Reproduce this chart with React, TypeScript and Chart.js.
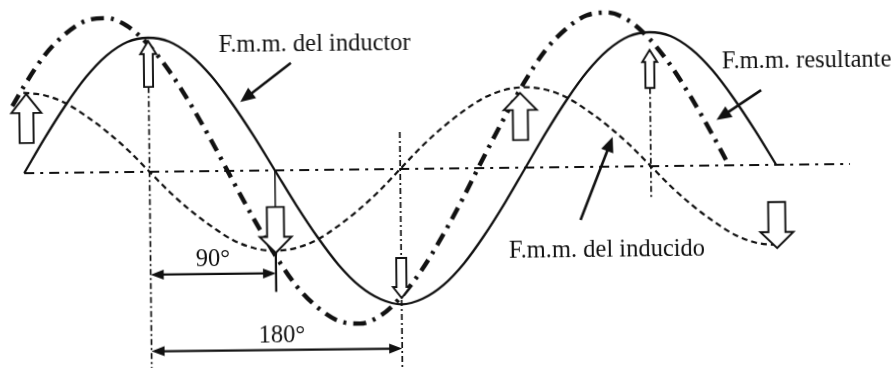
import React, { useEffect, useRef } from "react";
import { Chart, registerables } from "chart.js";

Chart.register(...registerables);

// Electrical degrees sampled along the curves
const phaseDeg = [0, 15, 30, 45, 60, 75, 90, 105, 120, 135, 150, 165, 180, 195, 210, 225, 240, 255, 270, 285, 300, 315, 330, 345, 360, 375, 390, 405, 420, 435, 450, 465, 480, 495, 510, 525, 540];
// F.m.m. del inductor (solid)
const inductorVal = [0, 0.26, 0.5, 0.71, 0.87, 0.97, 1, 0.97, 0.87, 0.71, 0.5, 0.26, 0, -0.26, -0.5, -0.71, -0.87, -0.97, -1.01, -0.97, -0.87, -0.71, -0.5, -0.26, 0, 0.26, 0.5, 0.71, 0.87, 0.97, 1, 0.97, 0.87, 0.71, 0.5, 0.26, 0];
// F.m.m. del inducido (dashed)
const inducidoVal = [0.6, 0.58, 0.52, 0.42, 0.3, 0.16, 0, -0.16, -0.3, -0.42, -0.52, -0.58, -0.6, -0.58, -0.52, -0.42, -0.3, -0.16, 0, 0.16, 0.3, 0.42, 0.52, 0.58, 0.6, 0.58, 0.52, 0.42, 0.3, 0.16, 0, -0.16, -0.3, -0.42, -0.52, -0.58, -0.6];
// F.m.m. resultante (thick dash-dot)
const resultDeg = [-8, 0, 15, 30, 45, 60, 75, 90, 105, 120, 135, 150, 165, 180, 195, 210, 225, 240, 255, 270, 285, 300, 315, 330, 345, 360, 375, 390, 405, 420, 435, 450, 465, 480, 495, 505];
const resultVal = [0.5, 0.64, 0.87, 1.03, 1.13, 1.15, 1.09, 0.95, 0.75, 0.5, 0.22, -0.08, -0.37, -0.64, -0.87, -1.03, -1.13, -1.15, -1.09, -0.95, -0.75, -0.5, -0.22, 0.08, 0.37, 0.64, 0.87, 1.03, 1.13, 1.15, 1.09, 0.95, 0.75, 0.5, 0.22, 0.02];
// Zero axis
const axisDeg = [0, 593];
const axisVal = [0, 0];
// Vertical guide lines
const guideDeg = [90, 270, 450];
const guideTop = [0.633, 0.276, 0.584];
const guideBottom = [-1.49, -1.49, -0.252];
// 180° tick stem (upper and lower parts)
const stemDeg = 180;
const stemUpper = [0, -0.273];
const stemLower = [-0.616, -0.907];
// Angle dimension labels
const dimLabels = ["90°", "180°"];
const dimFrom = [90, 90];
const dimTo = [180, 270];
const dimLevel = [-0.768, -1.34];
const dimLabelDeg = [134.8, 183.7];
const dimLabelVal = [-0.709, -1.28];
// Curve names
const curveNames = ["F.m.m. del inductor", "F.m.m. del inducido", "F.m.m. resultante"];
const nameDeg = [140.6, 347.4, 501.8];
const nameVal = [0.888, -0.673, 0.727];
const leaderFromDeg = [192.3, 399.1, 529.8];
const leaderFromVal = [0.8, -0.396, 0.559];
const leaderToDeg = [155.7, 422.8, 497.5];
const leaderToVal = [0.513, 0.221, 0.339];
// Hollow block arrows: position (deg), tip value, base value
const blockDeg = [2, 90, 180, 270, 356.7, 450, 540];
const blockTip = [0.59, 0.976, -0.616, -0.963, 0.557, 0.867, -0.621];
const blockBase = [0.225, 0.633, -0.273, -0.664, 0.206, 0.584, -0.278];

const blockStyle = [
  { headW: 15, shaftW: 7, headL: 19 },
  { headW: 8, shaftW: 4.5, headL: 13 },
  { headW: 16, shaftW: 8.5, headL: 16 },
  { headW: 8.5, shaftW: 5, headL: 11 },
  { headW: 16.5, shaftW: 7.5, headL: 17 },
  { headW: 7.5, shaftW: 4.5, headL: 12 },
  { headW: 16.5, shaftW: 8.5, headL: 16 },
];

const INK = "#111";
const FONT = '24.5px "Liberation Serif"';

function arrowHead(ctx: CanvasRenderingContext2D, tx: number, ty: number, fx: number, fy: number, len: number, half: number) {
  const ang = Math.atan2(ty - fy, tx - fx);
  const c = Math.cos(ang), s = Math.sin(ang);
  const bx = tx - c * len, by = ty - s * len;
  ctx.beginPath();
  ctx.moveTo(tx, ty);
  ctx.lineTo(bx - s * half, by + c * half);
  ctx.lineTo(bx + s * half, by - c * half);
  ctx.closePath();
  ctx.fill();
}

const annotationPlugin = {
  id: "fmmAnnotations",
  afterDatasetsDraw(chart: any) {
    const { ctx } = chart;
    const xs = chart.scales.x, ys = chart.scales.y;
    const px = (d: number) => xs.getPixelForValue(d);
    const py = (v: number) => ys.getPixelForValue(v);
    ctx.save();
    ctx.strokeStyle = INK;
    ctx.fillStyle = INK;

    // dimension lines
    for (let i = 0; i < dimLabels.length; i++) {
      const x1 = px(dimFrom[i]), x2 = px(dimTo[i]), yy = py(dimLevel[i]);
      ctx.lineWidth = 2.2;
      ctx.setLineDash([]);
      ctx.beginPath();
      ctx.moveTo(x1 + 6, yy);
      ctx.lineTo(x2 - 6, yy);
      ctx.stroke();
      arrowHead(ctx, x1, yy, x2, yy, 13, 5);
      arrowHead(ctx, x2, yy, x1, yy, 13, 5);
      ctx.font = FONT;
      ctx.textAlign = "center";
      ctx.textBaseline = "alphabetic";
      ctx.fillText(dimLabels[i], px(dimLabelDeg[i]), py(dimLabelVal[i]));
    }

    // curve names with leader arrows
    for (let i = 0; i < curveNames.length; i++) {
      ctx.font = FONT;
      ctx.textAlign = "left";
      ctx.textBaseline = "alphabetic";
      ctx.fillText(curveNames[i], px(nameDeg[i]), py(nameVal[i]));
      const fx = px(leaderFromDeg[i]), fy = py(leaderFromVal[i]);
      const tx = px(leaderToDeg[i]), ty = py(leaderToVal[i]);
      const ang = Math.atan2(ty - fy, tx - fx);
      ctx.lineWidth = 2.6;
      ctx.beginPath();
      ctx.moveTo(fx, fy);
      ctx.lineTo(tx - Math.cos(ang) * 8, ty - Math.sin(ang) * 8);
      ctx.stroke();
      arrowHead(ctx, tx, ty, fx, fy, 15, 6.5);
    }

    // hollow block arrows
    for (let i = 0; i < blockDeg.length; i++) {
      const st = blockStyle[i];
      const cx = px(blockDeg[i]), ty = py(blockTip[i]), by = py(blockBase[i]);
      const s = Math.sign(by - ty);
      const hy = ty + s * st.headL;
      ctx.beginPath();
      ctx.moveTo(cx, ty);
      ctx.lineTo(cx + st.headW, hy);
      ctx.lineTo(cx + st.shaftW, hy);
      ctx.lineTo(cx + st.shaftW, by);
      ctx.lineTo(cx - st.shaftW, by);
      ctx.lineTo(cx - st.shaftW, hy);
      ctx.lineTo(cx - st.headW, hy);
      ctx.closePath();
      ctx.fillStyle = "#fff";
      ctx.fill();
      ctx.lineWidth = 1.9;
      ctx.lineJoin = "miter";
      ctx.strokeStyle = INK;
      ctx.stroke();
    }
    ctx.restore();
  },
};

function pts(xsArr: number[], ysArr: number[]) {
  return xsArr.map((x, i) => ({ x, y: ysArr[i] }));
}

export default function App() {
  const ref = useRef<HTMLCanvasElement | null>(null);
  useEffect(() => {
    if (!ref.current) return;
    const guideSets = guideDeg.map((d, i) => ({
      data: [{ x: d, y: guideTop[i] }, { x: d, y: guideBottom[i] }],
      borderColor: INK,
      borderWidth: 1.7,
      borderDash: [6, 3, 2, 3],
      pointRadius: 0,
      tension: 0,
    }));
    const chart = new Chart(ref.current, {
      type: "line",
      data: {
        datasets: [
          {
            data: pts(axisDeg, axisVal),
            borderColor: INK,
            borderWidth: 2.2,
            borderDash: [10, 6, 3, 6],
            pointRadius: 0,
            tension: 0,
          },
          ...guideSets,
          {
            data: [{ x: stemDeg, y: stemUpper[0] }, { x: stemDeg, y: stemUpper[1] }],
            borderColor: INK,
            borderWidth: 1.5,
            pointRadius: 0,
            tension: 0,
          },
          {
            data: [{ x: stemDeg, y: stemLower[0] }, { x: stemDeg, y: stemLower[1] }],
            borderColor: INK,
            borderWidth: 2.2,
            pointRadius: 0,
            tension: 0,
          },
          {
            data: pts(phaseDeg, inducidoVal),
            borderColor: INK,
            borderWidth: 2.2,
            borderDash: [6, 4],
            pointRadius: 0,
            cubicInterpolationMode: "monotone",
          },
          {
            data: pts(phaseDeg, inductorVal),
            borderColor: INK,
            borderWidth: 2.3,
            pointRadius: 0,
            cubicInterpolationMode: "monotone",
          },
          {
            data: pts(resultDeg, resultVal),
            borderColor: INK,
            borderWidth: 4.4,
            borderDash: [13, 7, 3, 7],
            pointRadius: 0,
            cubicInterpolationMode: "monotone",
          },
        ] as any,
      },
      options: {
        animation: false,
        responsive: false,
        maintainAspectRatio: false,
        parsing: false as any,
        normalized: true,
        layout: { padding: 0 },
        plugins: { legend: { display: false }, tooltip: { enabled: false } },
        events: [],
        scales: {
          x: { type: "linear", min: -17.38, max: 625.3, display: false },
          y: { type: "linear", min: -1.485, max: 1.261, display: false },
        },
      },
      plugins: [annotationPlugin],
    });
    return () => chart.destroy();
  }, []);
  return (
    <div
      style={{
        position: "fixed",
        left: 0,
        top: 0,
        width: 895,
        height: 368,
        background: "#fff",
        transformOrigin: "400px 169px",
        transform: "rotate(-0.64deg)",
      }}
    >
      <canvas ref={ref} width={895} height={368} style={{ display: "block" }} />
    </div>
  );
}
